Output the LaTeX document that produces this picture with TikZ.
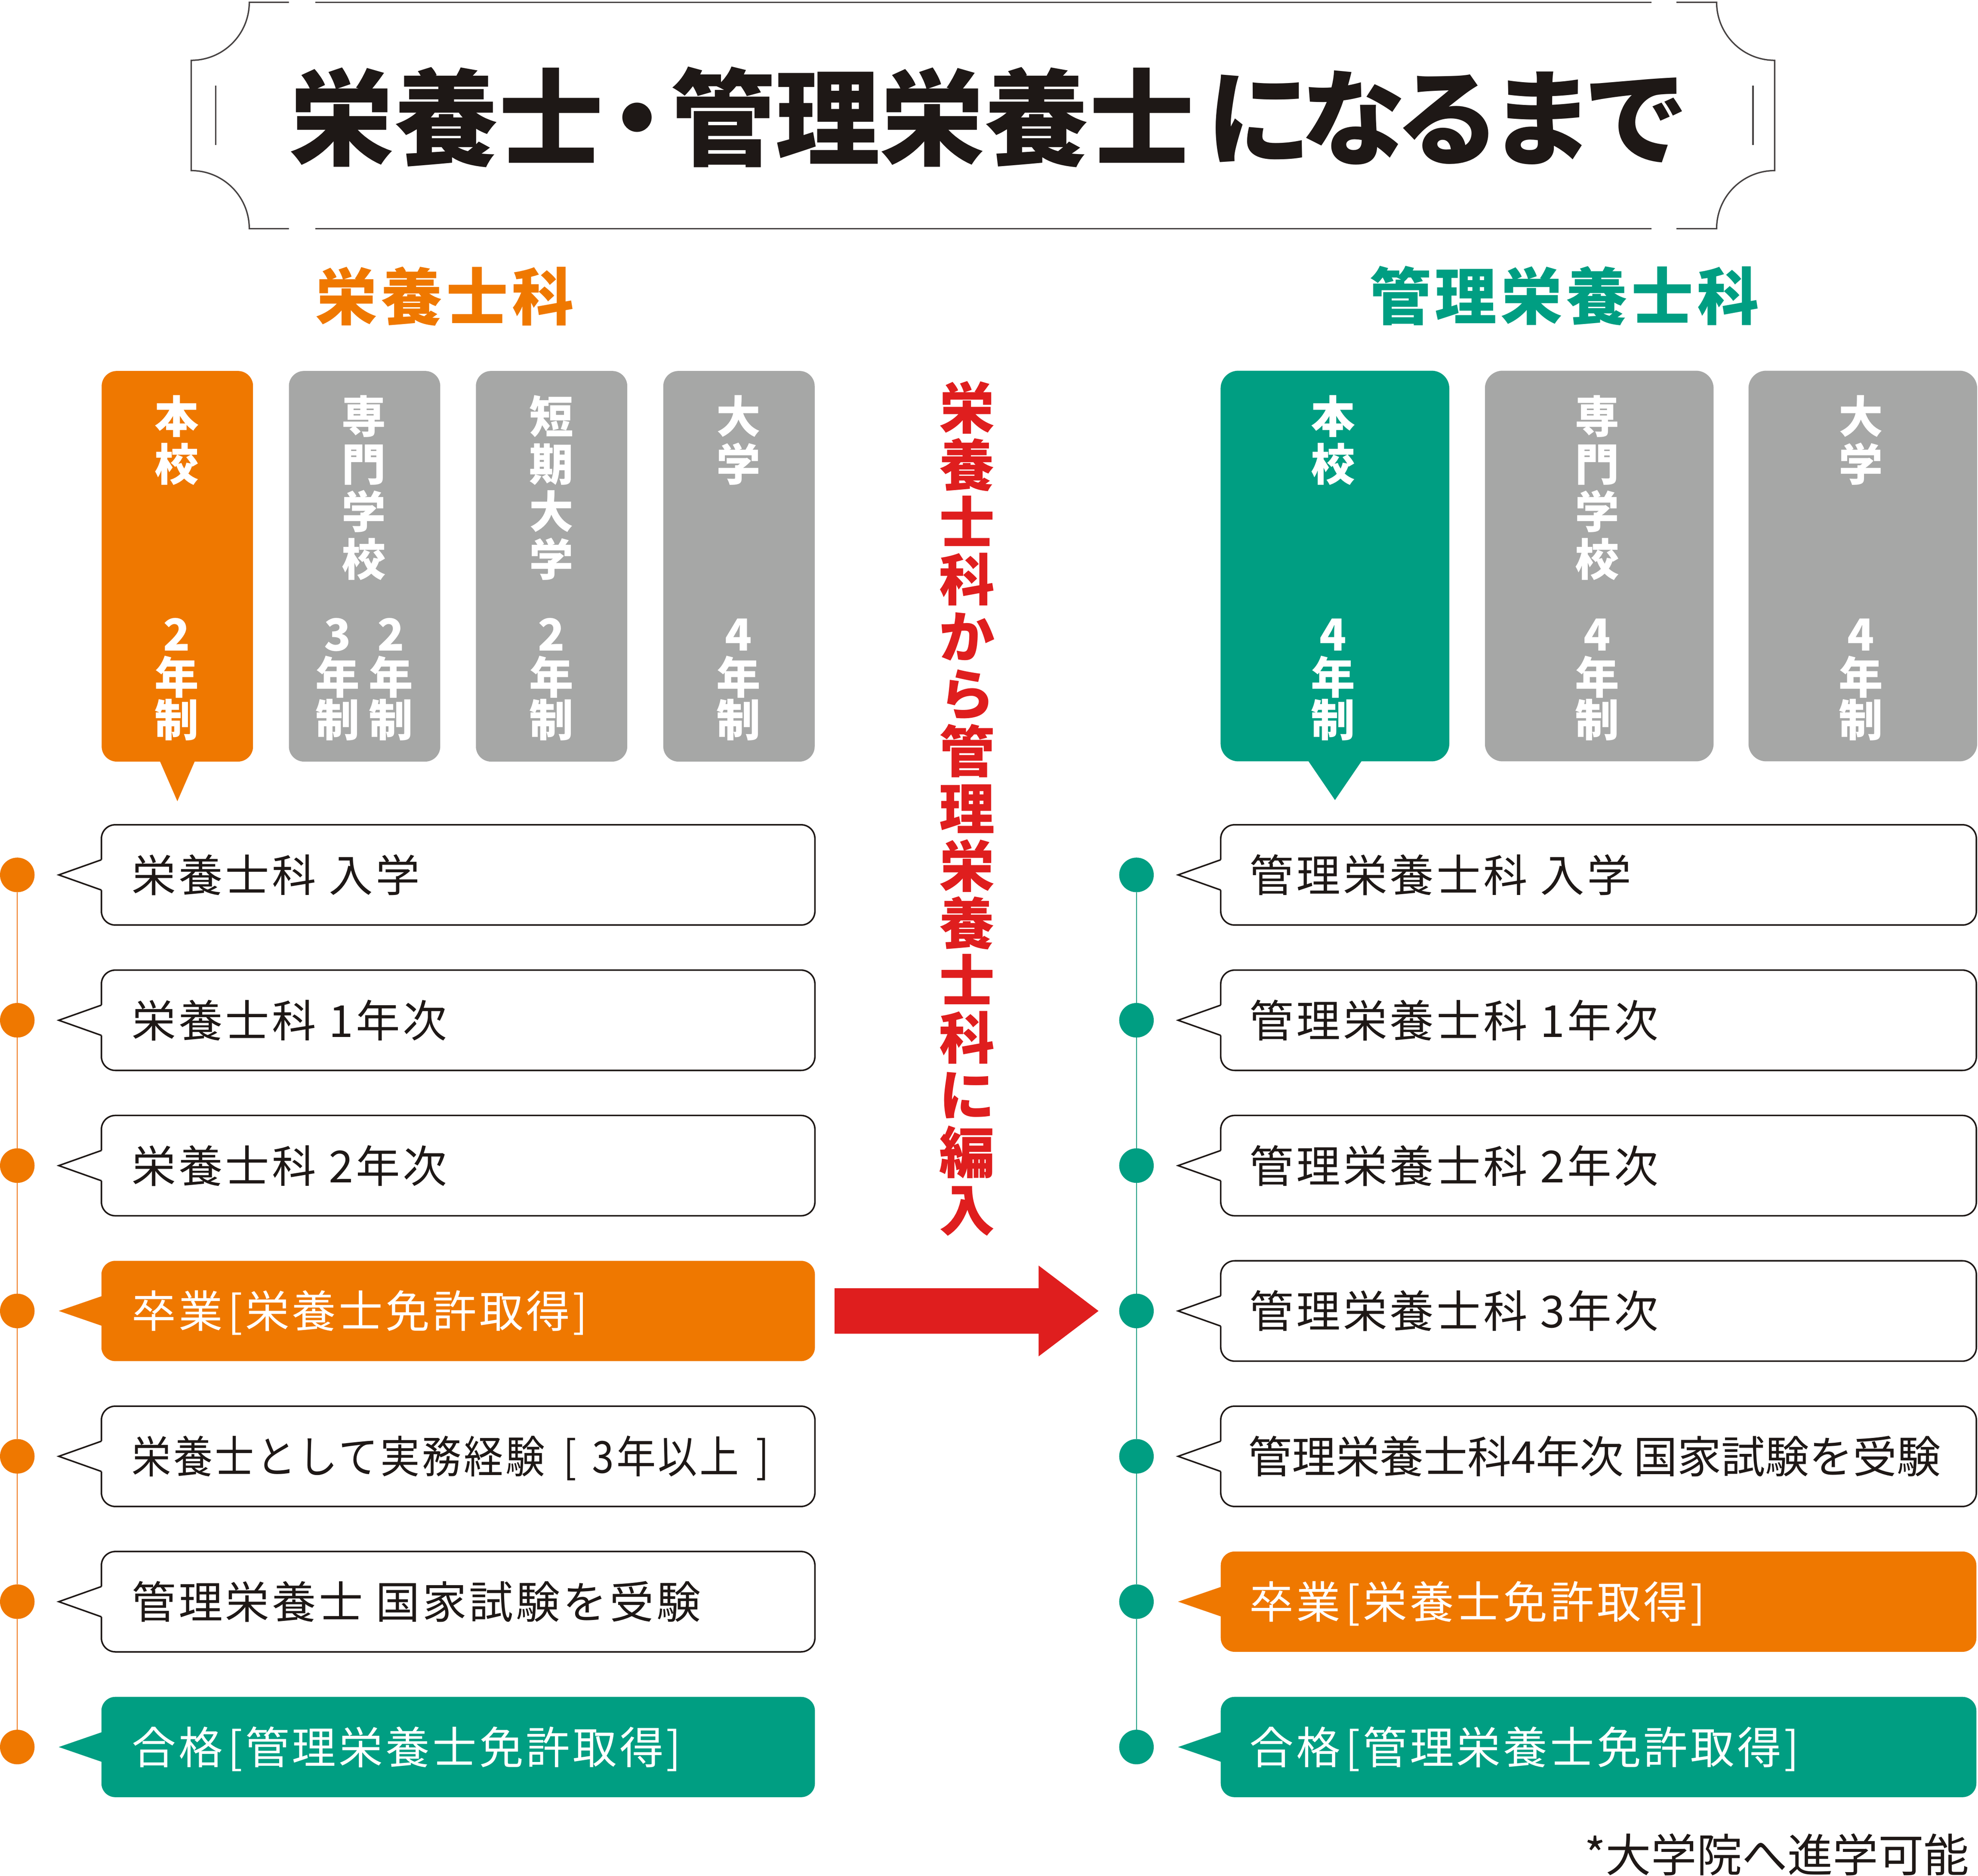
\documentclass[tikz,border=0pt]{standalone}
\usepackage{fontspec}
\setmainfont{Noto Sans CJK JP}
\newfontfamily\jpls[LetterSpace=6]{Noto Sans CJK JP}
\newfontfamily\jptight[LetterSpace=-10]{Noto Sans CJK JP}
\usetikzlibrary{calc}
\definecolor{cOr}{RGB}{239,120,0}
\definecolor{cGr}{RGB}{0,158,130}
\definecolor{cGy}{RGB}{166,167,166}
\definecolor{cRd}{RGB}{223,30,30}
\definecolor{cInk}{RGB}{30,24,22}
\definecolor{cFr}{RGB}{70,66,66}
\newcommand\vstack[5]{\foreach \ch [count=\i] in {#5} {\node[cardch] (#1\i) at (#2,{#3+(\i-1)*#4}) {\ch};}}
\newcommand\wrow[6]{%
  \node[wbox, minimum width=#4pt] (#1) at (#2,#3) {};
  \coordinate (#1p) at ([xshift=-33.8pt]#1.west);
  \fill[white] ([yshift=12pt]#1.west) -- (#1p) -- ([yshift=-12pt]#1.west) -- ([xshift=2pt,yshift=-12pt]#1.west) -- ([xshift=2pt,yshift=12pt]#1.west) -- cycle;
  \draw[ptr] ([yshift=12pt]#1.west) -- (#1p) -- ([yshift=-12pt]#1.west);
  \node[rowtxt, text=cInk] (#1t) at (#5,#3) {#6};}
\newcommand\frow[7]{%
  \node[rowbox, fill=#5, minimum width=#4pt] (#1) at (#2,#3) {};
  \coordinate (#1p) at ([xshift=-33.8pt]#1.west);
  \fill[#5] ([xshift=1pt,yshift=12pt]#1.west) -- (#1p) -- ([xshift=1pt,yshift=-12pt]#1.west) -- cycle;
  \node[rowtxt, text=white] (#1t) at (#6,#3) {#7};}
\newcommand\lbk{\hspace{4pt}[\hspace{2pt}}
\newcommand\rbk{\hspace{2pt}]}
\begin{document}
\begin{tikzpicture}[x=1pt,y=-1pt,
  every node/.style={inner sep=0pt, outer sep=0pt},
  card/.style={rectangle, rounded corners=12pt, minimum width=120pt, minimum height=309.6pt},
  rcard/.style={card, rounded corners=14pt, minimum width=181.3pt},
  cardch/.style={text=white, font=\bfseries\fontsize{35}{35}\selectfont, text height=30.8pt, text depth=4.2pt},
  redch/.style={text=cRd, font=\bfseries\fontsize{44}{44}\selectfont, text height=38.7pt, text depth=5.3pt},
  rowbox/.style={rectangle, rounded corners=11pt, minimum height=79.5pt},
  wbox/.style={rowbox, draw=cInk, fill=white, line width=1.2pt},
  rowtxt/.style={anchor=west, font=\jpls\fontsize{35}{35}\selectfont, text height=30.8pt, text depth=4.2pt},
  odot/.style={circle, fill=cOr, minimum size=27.4pt},
  gdot/.style={circle, fill=cGr, minimum size=27.4pt},
  oline/.style={draw=cOr, line width=0.8pt},
  gline/.style={draw=cGr, line width=0.8pt},
  ptr/.style={draw=cInk, line width=1.2pt, line join=miter},
  frame/.style={draw=cFr, line width=1.1pt}]
\fill[white] (0,0) rectangle (1568,1486.8);
\useasboundingbox (0,0) rectangle (1568,1486.8);
% title frame
\draw[frame] (229,1.8) -- (197.6,1.8) .. controls (197.6,27.2) and (177,47.8) .. (151.6,47.8) -- (151.6,135.2) .. controls (177,135.2) and (197.6,155.8) .. (197.6,181.2) -- (229,181.2);
\draw[frame] (250,1.8) -- (1309,1.8);
\draw[frame] (250,181.2) -- (1309,181.2);
\draw[frame] (1329,1.8) -- (1360.8,1.8) .. controls (1360.8,27.2) and (1381.4,47.8) .. (1406.8,47.8) -- (1406.8,135.2) .. controls (1381.4,135.2) and (1360.8,155.8) .. (1360.8,181.2) -- (1329,181.2);
\draw[frame] (171,68) -- (171,115);
\draw[frame] (1389.6,68) -- (1389.6,115);
\node[anchor=west, font=\bfseries\fontsize{83}{83}\selectfont, text=cInk, text height=73pt, text depth=10pt] (title) at (229.5,93.3) {栄養士\hspace{-15pt}・\hspace{-15pt}管理栄養士\hspace{10pt}{\jptight\bfseries になるまで}};
% subtitles
\node[font=\jpls\bfseries\fontsize{49}{49}\selectfont, text=cOr, text height=43.1pt, text depth=5.9pt] (sub1) at (352.5,235) {栄養士科};
\node[font=\jpls\bfseries\fontsize{49}{49}\selectfont, text=cGr, text height=43.1pt, text depth=5.9pt] (sub2) at (1240,234.5) {管理栄養士科};
% left cards
\node[card, fill=cOr] (lc1) at (140.6,448.8) {};
\node[card, fill=cGy] (lc2) at (289,448.8) {};
\node[card, fill=cGy] (lc3) at (437.25,448.8) {};
\node[card, fill=cGy] (lc4) at (585.8,448.8) {};
\fill[cOr] ($(lc1.south)+(-15,-3)$) -- ($(lc1.south)+(15,-3)$) -- ($(lc1.south)+(0,31.4)$) -- cycle;
\vstack{lc1a}{140}{330}{37.8}{本,校}
\vstack{lc1b}{140}{502.5}{34}{2,年,制}
\vstack{lc2a}{288.5}{330}{37.7}{専,門,学,校}
\vstack{lc2b}{267.5}{502.5}{34}{3,年,制}
\vstack{lc2c}{310}{502.5}{34}{2,年,制}
\vstack{lc3a}{437}{330}{37.7}{短,期,大,学}
\vstack{lc3b}{437}{502.5}{34}{2,年,制}
\vstack{lc4a}{585.5}{330}{37.8}{大,学}
\vstack{lc4b}{585.5}{502.5}{34}{4,年,制}
% right cards
\node[rcard, fill=cGr] (rc1) at (1058.25,448.6) {};
\node[rcard, fill=cGy] (rc2) at (1267.75,448.6) {};
\node[rcard, fill=cGy] (rc3) at (1476.7,448.6) {};
\fill[cGr] ($(rc1.south)+(-23,-3)$) -- ($(rc1.south)+(23,-3)$) -- ($(rc1.south)+(0,30.7)$) -- cycle;
\vstack{rc1a}{1056.7}{330}{37.8}{本,校}
\vstack{rc1b}{1056.7}{502.5}{34}{4,年,制}
\vstack{rc2a}{1266}{330}{37.7}{専,門,学,校}
\vstack{rc2b}{1266}{502.5}{34}{4,年,制}
\vstack{rc3a}{1475.3}{330}{37.8}{大,学}
\vstack{rc3b}{1475.3}{502.5}{34}{4,年,制}
% red vertical text
\foreach \ch [count=\i] in {栄,養,士,科,か,ら,管,理,栄,養,士,科,に,編,入} {\node[redch] (rv\i) at (766.5,{323+(\i-1)*45.4}) {\ch};}
% timelines dots
\foreach \i in {1,...,7} {\node[odot] (ld\i) at (13.7,{693.4+(\i-1)*115.2}) {};
  \node[gdot] (rd\i) at (900.9,{693.4+(\i-1)*115.2}) {};}
\foreach \i [evaluate=\i as \j using int(\i+1)] in {1,...,6} {\draw[oline] (ld\i) -- (ld\j); \draw[gline] (rd\i) -- (rd\j);}
% left rows
\wrow{l1}{363.2}{693.4}{565.6}{104.5}{栄養士科 入学}
\wrow{l2}{363.2}{808.6}{565.6}{104.5}{栄養士科 1年次}
\wrow{l3}{363.2}{923.8}{565.6}{104.5}{栄養士科 2年次}
\frow{l4}{363.2}{1039}{565.6}{cOr}{104.5}{卒業\lbk 栄養士免許取得\rbk}
\wrow{l5}{363.2}{1154.2}{565.6}{104.5}{\scalebox{0.89}[1]{栄養士として実務経験\hspace{16.5pt}[\hspace{14pt}3年以上\hspace{15pt}]}}
\wrow{l6}{363.2}{1269.4}{565.6}{104.5}{管理栄養士 国家試験を受験}
\frow{l7}{363.2}{1384.6}{565.6}{cGr}{104.5}{合格\lbk 管理栄養士免許取得\rbk}
% right rows
\wrow{r1}{1267.2}{693.4}{599}{990.5}{管理栄養士科 入学}
\wrow{r2}{1267.2}{808.6}{599}{990.5}{管理栄養士科 1年次}
\wrow{r3}{1267.2}{923.8}{599}{990.5}{管理栄養士科 2年次}
\wrow{r4}{1267.2}{1039}{599}{990.5}{管理栄養士科 3年次}
\wrow{r5}{1267.2}{1154.2}{599}{989.5}{\fontspec{Noto Sans CJK JP}\fontsize{34.8}{34.8}\selectfont 管理栄養士科4年次 国家試験を受験}
\frow{r6}{1267.2}{1269.4}{599}{cOr}{990.5}{卒業\lbk 栄養士免許取得\rbk}
\frow{r7}{1267.2}{1384.6}{599}{cGr}{990.5}{合格\lbk 管理栄養士免許取得\rbk}
% red arrow
\coordinate (as) at ([xshift=15.6pt]l4.east);
\coordinate (ae) at ([xshift=-16.4pt]rd4.west);
\fill[cRd] ($(as)+(0,-18)$) -- ($(ae)+(-47.5,-18)$) -- ($(ae)+(-47.5,-36)$) -- (ae) -- ($(ae)+(-47.5,36)$) -- ($(ae)+(-47.5,18)$) -- ($(as)+(0,18)$) -- cycle;
% footnote
\node[anchor=east, font=\fontsize{36}{36}\selectfont, text=cInk, text height=31.7pt, text depth=4.3pt] (note) at (1561,1470) {*大学院へ進学可能};
\end{tikzpicture}
\end{document}
